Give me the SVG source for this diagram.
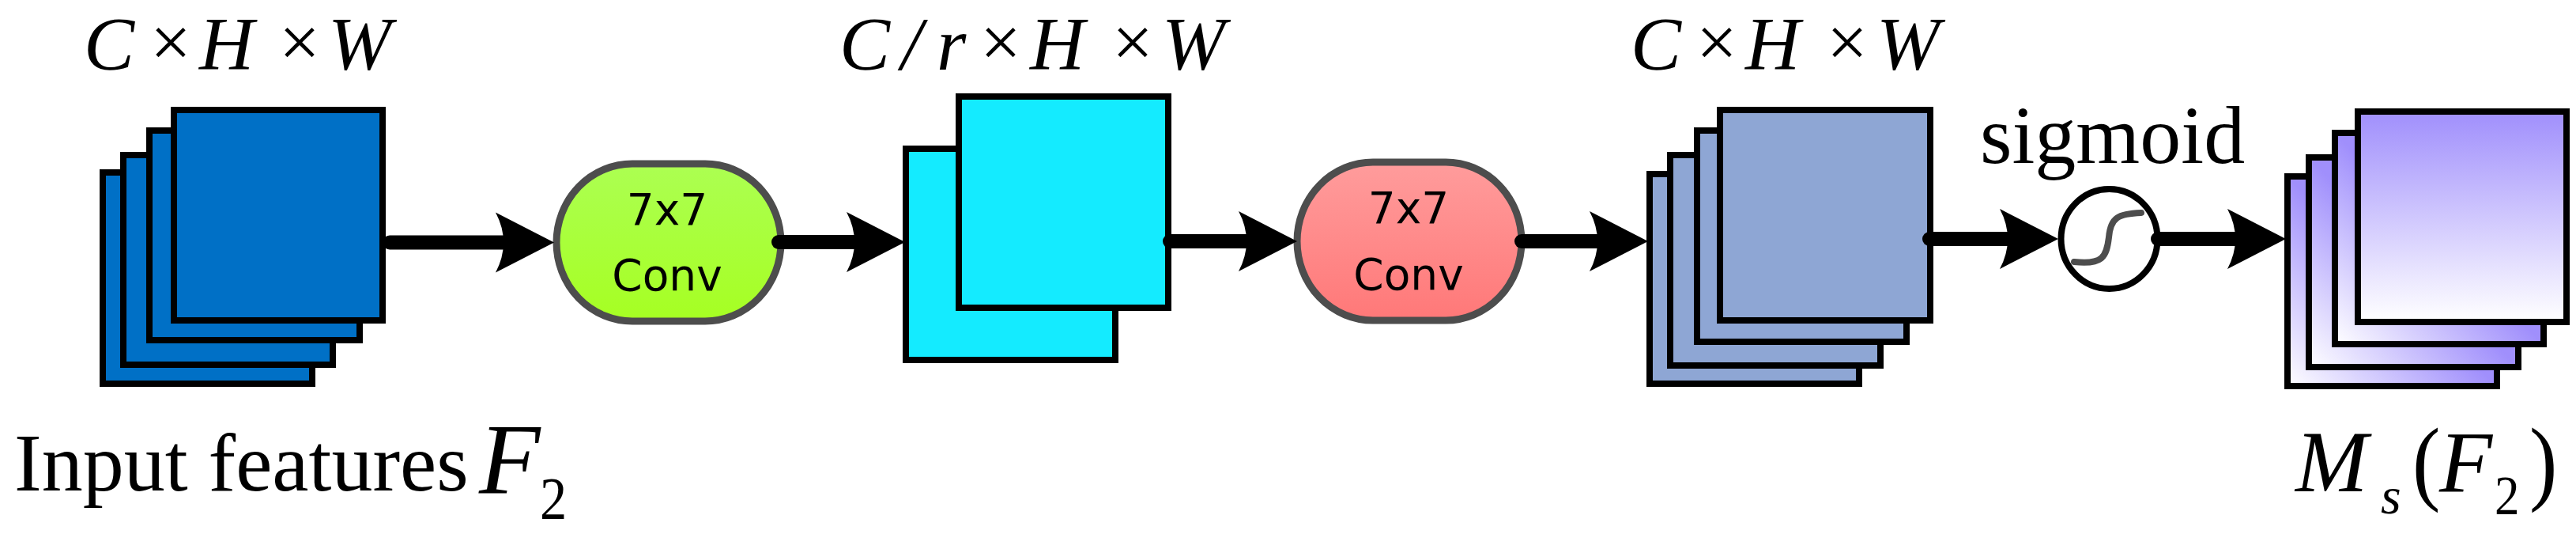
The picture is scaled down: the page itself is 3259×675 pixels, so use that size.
<svg xmlns="http://www.w3.org/2000/svg" width="3259" height="675" viewBox="0 0 3259 675">
<style>
.r{stroke:#000;stroke-width:8}
.a{fill:#0070c6}.b{fill:#14ebff}.c{fill:#8ea6d4}
.d{fill:url(#pd)}.t{fill:url(#pv)}
.o{stroke:#4d4d4d;stroke-width:9}
.l{fill:none;stroke:#000;stroke-width:18;stroke-linecap:round;marker-end:url(#h)}
.s{font-family:"Liberation Serif","Times New Roman",serif;fill:#000}
.i{font-style:italic}
.n{font-family:"DejaVu Sans",sans-serif;font-size:55px;text-anchor:middle;fill:#000}
</style>
<defs>
<linearGradient id="pd" x1="0" y1="1" x2="1" y2="0"><stop offset="0" stop-color="#fff"/><stop offset=".5" stop-color="#a08ffc"/></linearGradient>
<linearGradient id="pv" x1="0" y1="0" x2="0" y2="1"><stop offset="0" stop-color="#a08ffc"/><stop offset="1" stop-color="#fff"/></linearGradient>
<linearGradient id="gg" x1="0" y1="0" x2="0" y2="1"><stop offset="0" stop-color="#acff52"/><stop offset="1" stop-color="#a6ff22"/></linearGradient>
<linearGradient id="gr" x1="0" y1="0" x2="0" y2="1"><stop offset="0" stop-color="#ff9c9c"/><stop offset="1" stop-color="#ff7878"/></linearGradient>
<marker id="h" markerUnits="userSpaceOnUse" markerWidth="80" markerHeight="80" refX="13" refY="38" orient="auto" overflow="visible"><path d="M0 0L74 38L0 76Q20 38 0 0Z" fill="#000"/></marker>
</defs>
<g id="label-top-1" class="s">
<text class="i" font-size="96" x="106" y="88">C</text><text font-size="92" x="190" y="84">×</text><text class="i" font-size="96" x="252" y="88">H</text><text font-size="92" x="353" y="84">×</text><text class="i" font-size="96" x="415" y="88">W</text>
</g>
<g id="label-top-2" class="s">
<text class="i" font-size="96" x="1062" y="88">C</text><text class="i" font-size="96" x="1140" y="88">/</text><text class="i" font-size="96" x="1185" y="88">r</text><text font-size="92" x="1240" y="84">×</text><text class="i" font-size="96" x="1303" y="88">H</text><text font-size="92" x="1407" y="84">×</text><text class="i" font-size="96" x="1470" y="88">W</text>
</g>
<g id="label-top-3" class="s">
<text class="i" font-size="96" x="2063" y="88">C</text><text font-size="92" x="2146" y="84">×</text><text class="i" font-size="96" x="2208" y="88">H</text><text font-size="92" x="2311" y="84">×</text><text class="i" font-size="96" x="2374" y="88">W</text>
</g>
<g id="input-features">
<rect class="r a" x="130" y="218" width="265" height="267"/>
<rect class="r a" x="156" y="196" width="265" height="265"/>
<rect class="r a" x="189" y="165" width="266" height="265"/>
<rect class="r a" x="220" y="139" width="264" height="266"/>
</g>
<g id="conv-1">
<rect class="o" x="704" y="207" width="284" height="199" rx="96" ry="99.5" fill="url(#gg)"/>
<text class="n" x="844" y="284">7x7</text><text class="n" x="844" y="367">Conv</text>
</g>
<g id="reduced-features">
<rect class="r b" x="1146" y="188" width="265" height="267"/>
<rect class="r b" x="1213" y="122" width="265" height="267"/>
</g>
<g id="conv-2">
<rect class="o" x="1641" y="205" width="284" height="200" rx="96" ry="100" fill="url(#gr)"/>
<text class="n" x="1782" y="282">7x7</text><text class="n" x="1782" y="366">Conv</text>
</g>
<g id="output-features">
<rect class="r c" x="2087" y="220" width="265" height="265"/>
<rect class="r c" x="2113" y="196" width="266" height="266"/>
<rect class="r c" x="2147" y="165" width="265" height="267"/>
<rect class="r c" x="2176" y="139" width="266" height="266"/>
</g>
<g id="sigmoid">
<text class="s" font-size="104" x="2505" y="206">sigmoid</text>
<ellipse cx="2668.5" cy="302" rx="61" ry="63" fill="#fff" stroke="#000" stroke-width="8"/>
<path d="M2624 331C2660 335 2665 325 2668 300C2670 275 2680 270 2709 269" fill="none" stroke="#4d4d4d" stroke-width="8" stroke-linecap="round"/>
</g>
<g id="spatial-map">
<rect class="r d" x="2894" y="223" width="265" height="265"/>
<rect class="r d" x="2921" y="199" width="265" height="265"/>
<rect class="r d" x="2954" y="168" width="264" height="267"/>
<rect class="r t" x="2983" y="141" width="264" height="266"/>
</g>
<g id="label-input" class="s">
<text font-size="104" x="18" y="620">Input features</text>
<text class="i" font-size="127" x="606" y="623">F</text>
<text font-size="76" transform="translate(683 656) scale(.9 1)">2</text>
</g>
<g id="label-output" class="s">
<text class="i" font-size="110" x="2904" y="621">M</text>
<text class="i" font-size="66" x="3012" y="649">s</text>
<text font-size="118" transform="translate(3052 623) scale(.9 1)">(</text>
<text class="i" font-size="110" x="3086" y="621">F</text>
<text font-size="70" transform="translate(3156 650) scale(.9 1)">2</text>
<text font-size="118" transform="translate(3200 623) scale(.9 1)">)</text>
</g>
<g id="connectors">
<path class="l" d="M493 306.5H640"/>
<path class="l" d="M985 306H1084"/>
<path class="l" d="M1480 305H1580"/>
<path class="l" d="M1925 305H2024"/>
<path class="l" d="M2441 302H2543"/>
<path class="l" d="M2730 302H2831"/>
</g>
</svg>
